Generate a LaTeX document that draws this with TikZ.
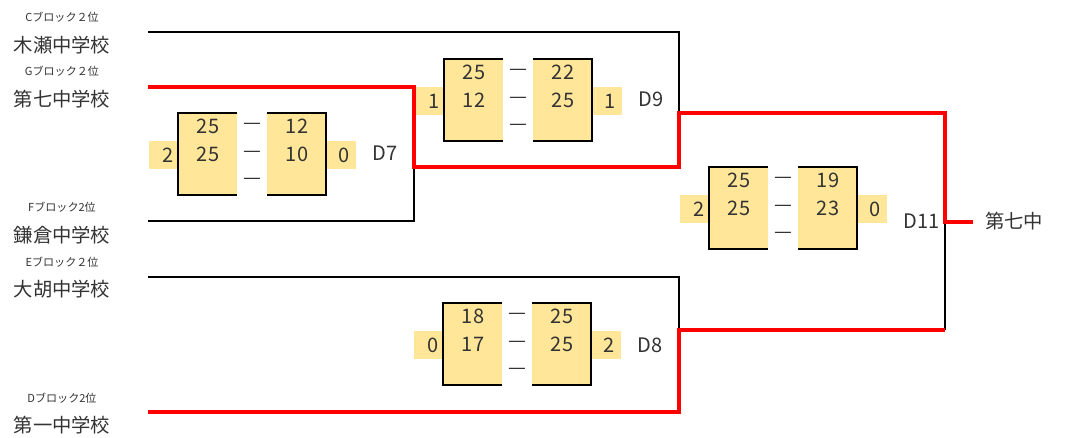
\documentclass[tikz,border=0pt]{standalone}
\usepackage{fontspec}
\setmainfont{Noto Sans CJK JP}
\definecolor{scorefill}{HTML}{FFE699}
\definecolor{inkgray}{HTML}{333333}
\tikzset{
  loser/.style={draw=black, line width=0.8pt},
  winner/.style={draw=red, line width=2.6pt},
  boxline/.style={draw=black, line width=1.6pt},
  block/.style={font=\fontsize{8.3}{9}\selectfont, text=inkgray, inner sep=0pt},
  school/.style={font=\fontsize{14.5}{16}\selectfont, text=inkgray, inner sep=0pt},
  score/.style={font=\fontsize{15}{17}\selectfont, text=inkgray, inner sep=0pt},
}
\begin{document}
\begin{tikzpicture}[x=0.75pt, y=-0.75pt]
  \useasboundingbox (0,0) rectangle (1065,437);
  % schools
  \node[block]  (c2)   at (62,17)  {Cブロック２位};
  \node[school] (kise) at (62,45)  {木瀬中学校};
  \node[block]  (g2)   at (62,71)  {Gブロック２位};
  \node[school] (nana) at (62,99)  {第七中学校};
  \node[block]  (f2)   at (62,207) {Fブロック2位};
  \node[school] (kama) at (62,235) {鎌倉中学校};
  \node[block]  (e2)   at (62,262) {Eブロック２位};
  \node[school] (daigo) at (62,289) {大胡中学校};
  \node[block]  (d2)   at (62,398) {Dブロック2位};
  \node[school] (ichi) at (62,425) {第一中学校};
  \node[school, anchor=west] (champ) at (985,221) {第七中};
  % bracket points
  \coordinate (kiseL) at (148,32);
  \coordinate (nanaL) at (148,87);
  \coordinate (kamaL) at (148,221);
  \coordinate (daigoL) at (148,277);
  \coordinate (ichiL) at (148,412);
  \coordinate (d7) at (414,167);
  \coordinate (d9) at (679,113);
  \coordinate (d8) at (679,330);
  \coordinate (d11) at (945,222);
  \coordinate (top) at (973,222);
  % score boxes
  \foreach \bx/\by/\ly/\lbl/\la/\lb/\ra/\rb/\sl/\sr in
    {178/113/153/D7/25/25/12/10/2/0, 444/59/99/D9/25/12/22/25/1/1,
     443/303/345/D8/18/17/25/25/0/2, 709/167/221/D11/25/25/19/23/2/0}{
    \fill[scorefill] (\bx,\by) rectangle (\bx+59,\by+82);
    \fill[scorefill] (\bx-29,\by+28) rectangle (\bx,\by+56);
    \fill[scorefill] (\bx+89,\by) rectangle (\bx+148,\by+82);
    \fill[scorefill] (\bx+148,\by+28) rectangle (\bx+178,\by+56);
    \draw[boxline] (\bx+59,\by) -- (\bx,\by) -- (\bx,\by+82) -- (\bx+59,\by+82);
    \draw[boxline] (\bx+89,\by) -- (\bx+148,\by) -- (\bx+148,\by+82) -- (\bx+89,\by+82);
    \node[score] (\lbl-l1) at (\bx+30,\by+13) {\la};
    \node[score] (\lbl-l2) at (\bx+30,\by+41) {\lb};
    \node[score] (\lbl-r1) at (\bx+119,\by+13) {\ra};
    \node[score] (\lbl-r2) at (\bx+119,\by+41) {\rb};
    \foreach \dy in {13,41,68}
      \node[score] at (\bx+74,\by+\dy) {—};
    \node[score] (\lbl-sl) at (\bx-10,\by+42) {\sl};
    \node[score] (\lbl-sr) at (\bx+166,\by+42) {\sr};
    \node[score, anchor=west] (\lbl) at (\bx+194,\ly) {\lbl};
  }
  % lines
  \draw[loser] (kiseL) -| (d9);
  \draw[loser] (kamaL) -| (d7);
  \draw[loser] (daigoL) -| (d8);
  \draw[loser] (d11) -- (d11 |- d8);
  \draw[winner] (nanaL) -| (d7) -| (d9) -| (d11) -- (top);
  \draw[winner] (ichiL) -| (d8) -- (d8 -| d11);
\end{tikzpicture}
\end{document}
